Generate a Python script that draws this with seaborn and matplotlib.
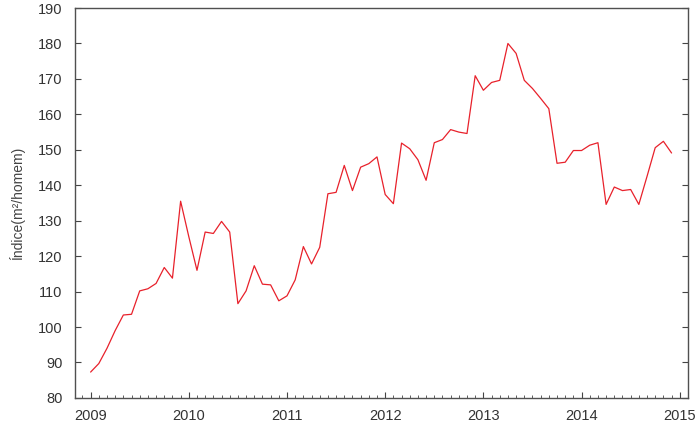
import numpy as np
import pandas as pd
import seaborn as sns
import matplotlib.pyplot as plt
from matplotlib.ticker import MultipleLocator

# monthly index, Jan 2009 - Dec 2014
years = [2009, 2010, 2011, 2012, 2013, 2014]
values_2009 = [87.3, 89.7, 94.0, 99.0, 103.4, 103.6, 110.2, 110.8, 112.3, 116.8, 113.8, 135.5]
values_2010 = [125.5, 116.0, 126.8, 126.4, 129.8, 126.8, 106.6, 110.2, 117.3, 112.1, 111.9, 107.4]
values_2011 = [108.8, 113.3, 122.7, 117.8, 122.5, 137.6, 138.0, 145.6, 138.5, 145.1, 146.1, 148.0]
values_2012 = [137.4, 134.8, 151.9, 150.3, 147.2, 141.4, 152.0, 152.9, 155.7, 155.0, 154.6, 170.9]
values_2013 = [166.8, 169.0, 169.6, 180.0, 177.2, 169.6, 167.3, 164.5, 161.6, 146.2, 146.5, 149.8]
values_2014 = [149.8, 151.3, 152.0, 134.6, 139.5, 138.5, 138.8, 134.6, 142.5, 150.6, 152.4, 149.1]

all_values = values_2009 + values_2010 + values_2011 + values_2012 + values_2013 + values_2014
time = [y + m / 12 for y in years for m in range(12)]
df = pd.DataFrame({"t": time, "indice": all_values})

sns.set_style("white")
plt.rcParams["font.family"] = ["Liberation Sans", "DejaVu Sans"]

fig = plt.figure(figsize=(7, 4.22), dpi=100)
ax = fig.add_axes([0.107, 0.057, 0.876, 0.924])

sns.lineplot(data=df, x="t", y="indice", color="#e8212b", linewidth=0.9, ax=ax)

ax.set_xlim(2008.84, 2015.085)
ax.set_ylim(80, 190)
ax.xaxis.set_major_locator(MultipleLocator(1))
ax.xaxis.set_minor_locator(MultipleLocator(1 / 12))
ax.yaxis.set_major_locator(MultipleLocator(10))
ax.xaxis.set_major_formatter(plt.FuncFormatter(lambda v, p: f"{int(round(v))}"))

ax.set_xlabel("")
ax.set_ylabel("Índice(m²/homem)", fontsize=10, color="#444444", labelpad=9)

ax.tick_params(axis="both", which="both", direction="in", colors="#444444",
               labelcolor="#333333", labelsize=10.5)
ax.tick_params(axis="y", which="major", length=4, right=True, left=True, pad=9)
ax.tick_params(axis="x", which="major", length=4, bottom=True, top=False, pad=8)
ax.tick_params(axis="x", which="minor", length=2, bottom=True, top=False)

for s in ax.spines.values():
    s.set_visible(True)
    s.set_color("#505050")
    s.set_linewidth(1.0)

fig.savefig("out.png", dpi=100, facecolor="white")
